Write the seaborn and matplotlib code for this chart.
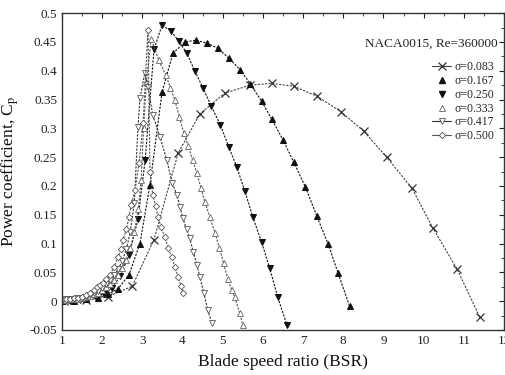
import numpy as np
import pandas as pd
import matplotlib
matplotlib.use("Agg")
import matplotlib.pyplot as plt
from matplotlib.lines import Line2D
from matplotlib.ticker import MultipleLocator, FuncFormatter
import seaborn as sns

# ---------------- data ----------------
x_083 = [1.05, 1.6, 2.15, 2.75, 3.29, 3.89, 4.43, 5.05, 5.68, 6.22, 6.77, 7.34, 7.94,
         8.51, 9.08, 9.71, 10.23, 10.83, 11.4]
y_083 = [0.0, 0.002, 0.008, 0.026, 0.107, 0.257, 0.325, 0.361, 0.375, 0.378, 0.373, 0.356,
         0.329, 0.295, 0.25, 0.196, 0.127, 0.056, -0.028]

x_167 = [1.0, 1.3, 1.6, 1.9, 2.15, 2.4, 2.67, 2.94, 3.19, 3.49, 3.76, 4.06, 4.33, 4.6, 4.88,
         5.15, 5.43, 5.69, 5.97, 6.22, 6.5, 6.77, 7.06, 7.34, 7.62, 7.87, 8.16]
y_167 = [0.0, 0.001, 0.003, 0.006, 0.012, 0.022, 0.046, 0.1, 0.202, 0.363, 0.43, 0.45, 0.453,
         0.448, 0.439, 0.422, 0.402, 0.377, 0.347, 0.316, 0.28, 0.241, 0.198, 0.148, 0.1,
         0.049, -0.009]

x_250 = [1.0, 1.2, 1.45, 1.65, 1.85, 2.05, 2.25, 2.45, 2.67, 2.89, 3.07, 3.29, 3.49, 3.71,
         3.91, 4.11, 4.31, 4.51, 4.72, 4.94, 5.15, 5.35, 5.55, 5.75, 5.97, 6.17, 6.37, 6.6]
y_250 = [0.001, 0.001, 0.002, 0.004, 0.008, 0.013, 0.023, 0.044, 0.08, 0.142, 0.245, 0.437,
         0.479, 0.469, 0.451, 0.43, 0.399, 0.37, 0.338, 0.306, 0.268, 0.233, 0.191, 0.146,
         0.102, 0.057, 0.007, -0.042]

x_333 = [1.0, 1.1, 1.2, 1.3, 1.4, 1.5, 1.6, 1.7, 1.8, 1.9, 2.0, 2.1, 2.2, 2.3, 2.4, 2.5, 2.6,
         2.7, 2.8, 2.9, 2.97, 3.03, 3.1, 3.22, 3.41, 3.59, 3.7, 3.81, 3.92, 4.03, 4.14, 4.25,
         4.36, 4.46, 4.56, 4.68, 4.81, 4.92, 5.02, 5.13, 5.22, 5.3, 5.42, 5.5]
y_333 = [0.002, 0.002, 0.003, 0.003, 0.004, 0.005, 0.007, 0.009, 0.012, 0.015, 0.019, 0.024,
         0.03, 0.037, 0.046, 0.058, 0.072, 0.092, 0.12, 0.16, 0.21, 0.3, 0.38, 0.455, 0.418,
         0.392, 0.37, 0.349, 0.32, 0.292, 0.27, 0.245, 0.222, 0.196, 0.172, 0.146, 0.118,
         0.092, 0.066, 0.038, 0.02, 0.007, -0.02, -0.042]

x_417 = [1.0, 1.1, 1.2, 1.3, 1.4, 1.5, 1.6, 1.7, 1.8, 1.9, 2.0, 2.1, 2.2, 2.3, 2.4, 2.5, 2.6,
         2.7, 2.8, 2.89, 2.94, 3.06, 3.14, 3.26, 3.44, 3.61, 3.74, 3.86, 3.94, 4.01, 4.1,
         4.18, 4.27, 4.36, 4.43, 4.53, 4.63, 4.73]
y_417 = [0.002, 0.003, 0.003, 0.004, 0.005, 0.006, 0.008, 0.011, 0.014, 0.018, 0.023, 0.029,
         0.036, 0.045, 0.056, 0.07, 0.09, 0.12, 0.17, 0.302, 0.352, 0.396, 0.372, 0.323,
         0.285, 0.245, 0.205, 0.185, 0.163, 0.144, 0.125, 0.109, 0.085, 0.063, 0.042, 0.015,
         -0.016, -0.038]

x_500 = [1.0, 1.1, 1.2, 1.3, 1.4, 1.5, 1.6, 1.7, 1.8, 1.87, 1.95, 2.02, 2.1, 2.19, 2.3, 2.4,
         2.46, 2.52, 2.6, 2.67, 2.72, 2.82, 2.92, 3.02, 3.14, 3.19, 3.26, 3.33, 3.39, 3.47,
         3.56, 3.64, 3.73, 3.81, 3.89, 3.96, 4.01]
y_500 = [0.003, 0.003, 0.004, 0.005, 0.006, 0.008, 0.011, 0.015, 0.019, 0.025, 0.028, 0.031,
         0.038, 0.045, 0.06, 0.077, 0.09, 0.106, 0.125, 0.146, 0.167, 0.193, 0.24, 0.31,
         0.47, 0.224, 0.184, 0.165, 0.146, 0.128, 0.111, 0.092, 0.077, 0.059, 0.042, 0.027,
         0.014]

labels = ["σ=0.083", "σ=0.167", "σ=0.250", "σ=0.333", "σ=0.417", "σ=0.500"]
annotation = "NACA0015, Re=360000"
xlabel = "Blade speed ratio (BSR)"
ylabel = "Power coefficient, C$_\\mathrm{p}$"

# ---------------- styling ----------------
sns.set_theme(style="white")
plt.rcParams["font.family"] = ["Liberation Serif", "DejaVu Serif"]
plt.rcParams["mathtext.fontset"] = "stix"

fig = plt.figure(figsize=(5.06, 3.75), dpi=100)
ax = fig.add_axes([0.1225, 0.12, 0.8735, 0.845])

series = [
    (x_083, y_083, dict(marker="x", ms=5.5, mew=0.9, color="#444444", mfc="none", mec="#333333")),
    (x_167, y_167, dict(marker="^", ms=4.5, color="#111111", mfc="#111111", mec="#111111")),
    (x_250, y_250, dict(marker="v", ms=5, color="#111111", mfc="#111111", mec="#111111")),
    (x_333, y_333, dict(marker="^", ms=4.2, color="#555555", mfc="white", mec="#666666", mew=0.6)),
    (x_417, y_417, dict(marker="v", ms=4.2, color="#333333", mfc="white", mec="#555555", mew=0.6)),
    (x_500, y_500, dict(marker="D", ms=3.2, color="#555555", mfc="white", mec="#555555", mew=0.6)),
]

for xs, ys, st in series:
    df = pd.DataFrame({"x": xs, "y": ys})
    sns.lineplot(data=df, x="x", y="y", sort=False, estimator=None, ax=ax,
                 linewidth=0.8, linestyle=(0, (2.0, 1.2)), legend=False, **st)

ax.set_xlim(1, 12)
ax.set_ylim(-0.05, 0.5)
ax.xaxis.set_major_locator(MultipleLocator(1))
ax.xaxis.set_minor_locator(MultipleLocator(0.5))
ax.yaxis.set_major_locator(MultipleLocator(0.05))
ax.yaxis.set_minor_locator(MultipleLocator(0.025))
ax.yaxis.set_major_formatter(FuncFormatter(lambda v, p: "0" if abs(v) < 1e-9 else f"{v:g}"))
ax.tick_params(axis="both", which="both", direction="in", top=True, right=True,
               labelsize=9.5, colors="#222222")
ax.tick_params(which="major", length=3.5, width=0.8)
ax.tick_params(which="minor", length=2, width=0.6)
for s in ax.spines.values():
    s.set_color("#333333")
    s.set_linewidth(1.0)

ax.set_xlabel(xlabel, fontsize=12.5, labelpad=5, color="#111111")
ax.set_ylabel(ylabel, fontsize=12.5, labelpad=6, color="#111111")

ax.text(11.85, 0.447, annotation, ha="right", va="center", fontsize=9.5, color="#222222")

handles = []
for i, (xs, ys, st) in enumerate(series):
    ls = "-" if i in (0, 4, 5) else "none"
    handles.append(Line2D([], [], linestyle=ls, linewidth=0.8, **st))
leg = ax.legend(handles, labels, loc="upper right", bbox_to_anchor=(0.995, 0.87),
                frameon=False, fontsize=8.5, handlelength=1.6, handletextpad=0.3,
                labelspacing=0.15, borderaxespad=0.2)

fig.savefig("out.png", dpi=100)
